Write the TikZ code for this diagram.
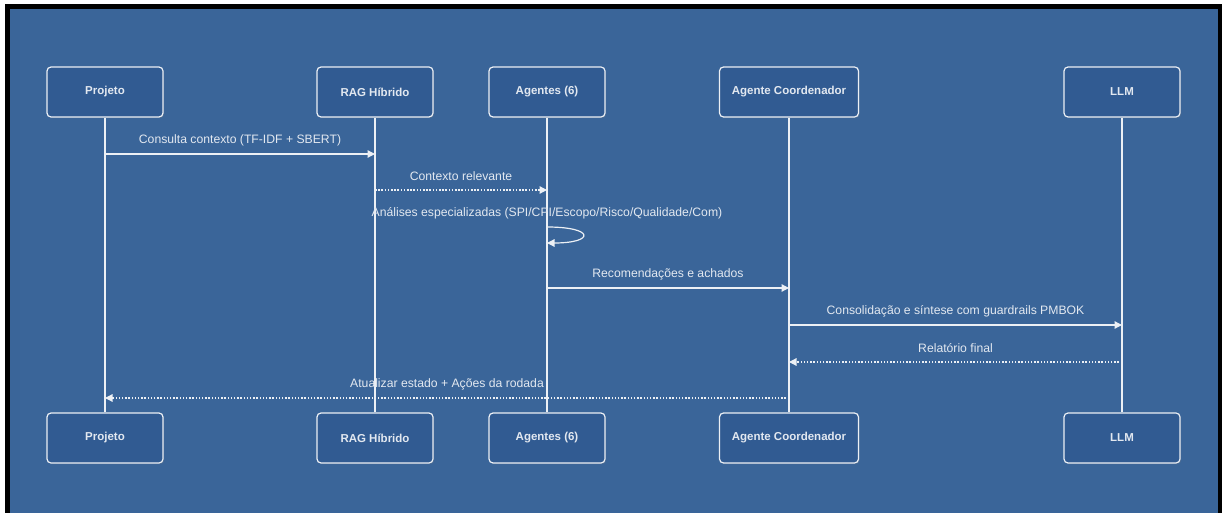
\documentclass[tikz,border=0pt]{standalone}
\usepackage{fontspec}
\setmainfont{Liberation Sans}
\usetikzlibrary{arrows.meta,shadows}
\definecolor{bg}{RGB}{58,101,153}
\definecolor{boxfill}{RGB}{49,91,146}
\definecolor{fg}{RGB}{236,240,245}
\definecolor{txt}{RGB}{226,232,240}
\begin{document}
\begin{tikzpicture}[x=1pt,y=-1pt,
  actor/.style={draw=fg, fill=boxfill, line width=1.2pt, rounded corners=4pt,
    minimum height=50pt, minimum width=116pt, inner sep=0pt, text=txt,
    font=\fontsize{11.5}{13}\selectfont\bfseries,
    drop shadow={opacity=0.25, shadow xshift=1.2pt, shadow yshift=-1.2pt}},
  life/.style={draw=fg, line width=1.2pt},
  msg/.style={draw=fg, line width=1.2pt, -{Triangle[length=7.5pt,width=7.5pt]}},
  reply/.style={msg, dash pattern=on 1.5pt off 1.7pt},
  lbl/.style={text=txt, font=\fontsize{12.2}{14}\selectfont, inner sep=0pt}]
\useasboundingbox (0,0) rectangle (1222,513);
\fill[white] (0,0) rectangle (1222,513);
\fill[bg] (10,9) rectangle (1218,513);
\fill[black] (5,4) rectangle (10,513);
\fill[black] (5,4) rectangle (1222,9);
\fill[black] (1218,4) rectangle (1222,513);
% top actors
\node[actor] (p1) at (105,92) {Projeto};
\node[actor] (r1) at (375,92) {RAG Híbrido};
\node[actor] (a1) at (547,92) {Agentes (6)};
\node[actor, minimum width=139pt] (c1) at (789,92) {Agente Coordenador};
\node[actor] (l1) at (1122,92) {LLM};
% bottom actors
\node[actor] (p2) at (105,438) {Projeto};
\node[actor] (r2) at (375,438) {RAG Híbrido};
\node[actor] (a2) at (547,438) {Agentes (6)};
\node[actor, minimum width=139pt] (c2) at (789,438) {Agente Coordenador};
\node[actor] (l2) at (1122,438) {LLM};
% lifelines
\draw[life] (p1) -- (p2);
\draw[life] (r1) -- (r2);
\draw[life] (a1) -- (a2);
\draw[life] (c1) -- (c2);
\draw[life] (l1) -- (l2);
% message levels
\coordinate (m1) at (0,154);
\coordinate (m2) at (0,190);
\coordinate (s1) at (0,227);
\coordinate (s2) at (0,243);
\coordinate (m4) at (0,288);
\coordinate (m5) at (0,325);
\coordinate (m6) at (0,362);
\coordinate (m7) at (0,398);
\coordinate (t3) at (0,213);
\draw[msg] (p1 |- m1) -- node[lbl, yshift=14pt] {Consulta contexto (TF-IDF + SBERT)} (r1 |- m1);
\draw[reply] (r1 |- m2) -- node[lbl, yshift=14pt] {Contexto relevante} (a1 |- m2);
\node[lbl] (t3n) at (a1 |- t3) {Análises especializadas (SPI/CPI/Escopo/Risco/Qualidade/Com)};
\draw[msg] (a1 |- s1) .. controls +(48,0) and +(48,0) .. (a1 |- s2);
\draw[msg] (a1 |- m4) -- node[lbl, yshift=14pt] {Recomendações e achados} (c1 |- m4);
\draw[msg] (c1 |- m5) -- node[lbl, yshift=14pt] {Consolidação e síntese com guardrails PMBOK} (l1 |- m5);
\draw[reply] (l1 |- m6) -- node[lbl, yshift=14pt] {Relatório final} (c1 |- m6);
\draw[reply] (c1 |- m7) -- node[lbl, yshift=14pt] {Atualizar estado + Ações da rodada} (p1 |- m7);
\end{tikzpicture}
\end{document}
